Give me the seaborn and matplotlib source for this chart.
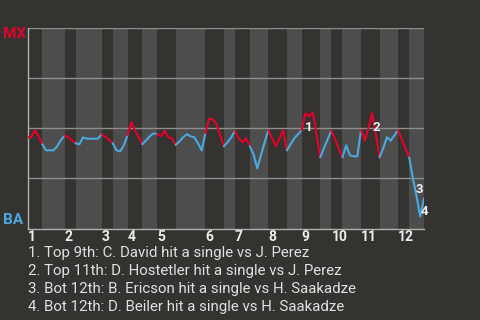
import matplotlib
matplotlib.use("Agg")
import matplotlib.pyplot as plt
import seaborn as sns
import pandas as pd
import numpy as np

# ---- data ----
wp = [0.455, 0.455, 0.49, 0.46, 0.42, 0.39, 0.39, 0.39, 0.41, 0.44,
      0.463, 0.455, 0.44, 0.425, 0.42, 0.455, 0.448, 0.448, 0.448, 0.448,
      0.47, 0.457, 0.443, 0.425, 0.39, 0.385, 0.415, 0.465, 0.53, 0.49,
      0.455, 0.42, 0.44, 0.46, 0.475, 0.47, 0.46, 0.487, 0.455, 0.45,
      0.417, 0.435, 0.455, 0.47, 0.46, 0.455, 0.425, 0.39, 0.475, 0.547,
      0.545, 0.52, 0.465, 0.41, 0.43, 0.455, 0.487, 0.45, 0.43, 0.45,
      0.41, 0.37, 0.30, 0.365, 0.43, 0.49, 0.45, 0.41, 0.45, 0.49,
      0.39, 0.42, 0.45, 0.47, 0.49, 0.575, 0.56, 0.577, 0.47, 0.355,
      0.40, 0.445, 0.487, 0.445, 0.40, 0.355, 0.415, 0.365, 0.36, 0.36,
      0.49, 0.438, 0.50, 0.575, 0.47, 0.355, 0.40, 0.455, 0.438, 0.465,
      0.49, 0.445, 0.40, 0.355, 0.25, 0.16, 0.06, 0.15]
half_ends = [4, 10, 13, 20, 23, 27, 31, 35, 40, 48, 53, 56, 60, 65, 70, 74,
             79, 82, 85, 90, 95, 100, 103, 107]
inning_starts = [0, 10, 20, 27, 35, 48, 56, 65, 74, 82, 90, 100]
inning_labels = ["1", "2", "3", "4", "5", "6", "7", "8", "9", "10", "11", "12"]
event_idx = [76, 93, 104, 106]
event_marks = ["1", "2", "3", "4"]
notes = ["1. Top 9th: C. David hit a single vs J. Perez",
         "2. Top 11th: D. Hostetler hit a single vs J. Perez",
         "3. Bot 12th: B. Ericson hit a single vs H. Saakadze",
         "4. Bot 12th: D. Beiler hit a single vs H. Saakadze"]
team_top = "MX"
team_bottom = "BA"
grid_levels = [0.25, 0.5, 0.75, 1.0]

# ---- style ----
BG = "#35332f"
LIGHT = "#4d4d4d"
GRID = "#8e8e8e"
RED = "#e4002b"
BLUE = "#4ba9e1"
mark_offsets = [(0, -8), (3, -10), (5, -8), (3, 3.5)]

sns.set_theme(style="dark")
plt.rcParams['font.family'] = ['Roboto', 'DejaVu Sans']

fig = plt.figure(figsize=(4.8, 3.2), dpi=100, facecolor=BG)
ax = fig.add_axes([27.5 / 480, 1 - 228.5 / 320, (424 - 27.5) / 480, 200.5 / 320])
ax.set_facecolor(BG)

starts = [0] + half_ends[:-1]
for h, (a, b) in enumerate(zip(starts, half_ends)):
    if h % 2 == 1:
        ax.axvspan(a, b, color=LIGHT, lw=0, zorder=0)

for g in grid_levels:
    ax.axhline(g, color=GRID, lw=1, zorder=1)

df = pd.DataFrame({"pa": np.arange(len(wp)), "wp": wp})
for h, (a, b) in enumerate(zip(starts, half_ends)):
    seg = df[(df.pa >= a) & (df.pa <= b)]
    sns.lineplot(data=seg, x="pa", y="wp", color=RED if h % 2 == 0 else BLUE,
                 lw=1.5, ax=ax, zorder=3, legend=False)

for i, m, off in zip(event_idx, event_marks, mark_offsets):
    ax.annotate(m, (i, wp[i]), xytext=off, textcoords="offset points",
                ha="center", va="center", color="#f2f2f2", weight="bold",
                fontsize=9.5, zorder=5)

ax.set_xlim(0, 107)
ax.set_ylim(0, 1)
ax.set_yticks([])
ax.set_xticks(inning_starts)
ax.set_xticklabels(inning_labels, ha="left", color="#eeeeee", weight="bold",
                   fontsize=10)
ax.tick_params(axis="x", length=0, pad=1)
ax.set_xlabel("")
ax.set_ylabel("")
for s in ["top", "right"]:
    ax.spines[s].set_visible(False)
for s in ["left", "bottom"]:
    ax.spines[s].set_visible(True)
    ax.spines[s].set_color("#b0b0b0")
    ax.spines[s].set_linewidth(1)

fig.text(3 / 480, 1 - 33.5 / 320, team_top, color=RED, weight="bold",
         fontsize=11, ha="left", va="center")
fig.text(3 / 480, 1 - 219.5 / 320, team_bottom, color=BLUE, weight="bold",
         fontsize=11, ha="left", va="center")

for k, t in enumerate(notes):
    fig.text(28 / 480, 1 - (253 + 18 * k) / 320, t, color="#e0e0e0",
             fontsize=10.8, ha="left", va="center")

fig.savefig("out.png", dpi=100, facecolor=BG)
